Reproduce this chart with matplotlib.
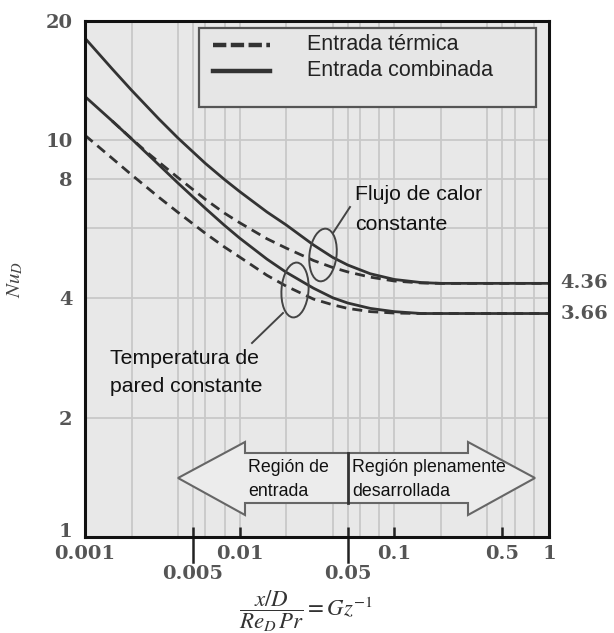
import matplotlib
matplotlib.use("Agg")
import matplotlib.pyplot as plt
from matplotlib.patches import Ellipse, Polygon, Rectangle
from matplotlib.lines import Line2D
from matplotlib.ticker import FixedLocator, NullFormatter
from matplotlib.transforms import ScaledTranslation

# ---------------- data ----------------
x_comb_H = [0.001, 0.0015, 0.002, 0.003, 0.004, 0.006, 0.008, 0.01, 0.015, 0.02, 0.03,
            0.04, 0.05, 0.07, 0.1, 0.15, 0.2, 1.0]
nu_comb_H = [18.1, 15.14, 13.38, 11.33, 10.13, 8.75, 7.96, 7.43, 6.6, 6.12, 5.45,
             5.07, 4.85, 4.61, 4.46, 4.38, 4.36, 4.36]

x_comb_T = [0.001, 0.0015, 0.002, 0.003, 0.004, 0.006, 0.008, 0.01, 0.015, 0.02, 0.03,
            0.04, 0.05, 0.07, 0.1, 0.15, 1.0]
nu_comb_T = [12.9, 11.19, 10.09, 8.68, 7.8, 6.74, 6.1, 5.67, 5.02, 4.65, 4.24,
             4.01, 3.89, 3.77, 3.70, 3.66, 3.66]

x_therm_H = [0.0015, 0.002, 0.0025, 0.003, 0.004, 0.006, 0.008, 0.01, 0.015, 0.02, 0.03,
             0.04, 0.05, 0.07, 0.1, 0.15, 0.2, 1.0]
nu_therm_H = [11.19, 10.1, 9.35, 8.82, 8.05, 7.1, 6.55, 6.2, 5.65, 5.35, 4.98,
              4.78, 4.66, 4.52, 4.42, 4.37, 4.36, 4.36]

x_therm_T = [0.001, 0.0015, 0.002, 0.003, 0.004, 0.006, 0.008, 0.01, 0.015, 0.02, 0.03,
             0.04, 0.05, 0.07, 0.1, 0.15, 1.0]
nu_therm_T = [10.3, 9.01, 8.19, 7.19, 6.58, 5.83, 5.38, 5.08, 4.57, 4.29, 3.98,
              3.85, 3.77, 3.70, 3.67, 3.66, 3.66]

x_ticks = [0.001, 0.005, 0.01, 0.05, 0.1, 0.5, 1.0]
x_tick_labels = ["0.001", "0.005", "0.01", "0.05", "0.1", "0.5", "1"]
x_grid = [0.002, 0.004, 0.006, 0.008, 0.02, 0.04, 0.06, 0.08, 0.2, 0.4, 0.6, 0.8]
y_ticks = [1, 2, 4, 8, 10, 20]
y_tick_labels = ["1", "2", "4", "8", "10", "20"]
y_grid = [6]
nu_fd = [4.36, 3.66]
nu_fd_labels = ["4.36", "3.66"]

legend_labels = ["Entrada térmica", "Entrada combinada"]

# ---------------- figure ----------------
plt.rcParams["mathtext.fontset"] = "stix"
W, H = 614, 633
fig = plt.figure(figsize=(W / 100, H / 100), dpi=100)
L, R, T, B = 85, 549, 21, 537
ax = fig.add_axes([L / W, 1 - B / H, (R - L) / W, (B - T) / H])
ax.set_facecolor("#e8e8e8")
ax.set_xscale("log")
ax.set_yscale("log")
ax.set_xlim(0.001, 1.0)
ax.set_ylim(1, 20)

def px2ax(px, py):
    return ((px - L) / (R - L), (B - py) / (B - T))

tick_font = dict(family="DejaVu Serif", fontweight="bold", fontsize=14, color="#555555")
sans = ["Liberation Sans", "DejaVu Sans"]

# grid
ax.xaxis.set_major_locator(FixedLocator(x_ticks))
ax.xaxis.set_minor_locator(FixedLocator(x_grid))
ax.xaxis.set_minor_formatter(NullFormatter())
ax.set_xticklabels(x_tick_labels, **tick_font)
ax.yaxis.set_major_locator(FixedLocator(y_ticks))
ax.yaxis.set_minor_locator(FixedLocator(y_grid))
ax.yaxis.set_minor_formatter(NullFormatter())
ax.set_yticklabels(y_tick_labels, **tick_font)
ax.grid(True, which="both", color="#c8c8c8", lw=1.3)
ax.set_axisbelow(True)

ax.tick_params(axis="x", which="major", direction="in", length=7.5, width=1.8, color="#222222", pad=6)
ax.tick_params(axis="x", which="minor", length=0)
ax.tick_params(axis="y", which="both", length=0, pad=9)
for t, v in zip(ax.xaxis.get_major_ticks(), x_ticks):
    if v in (0.005, 0.05):
        t.set_pad(20)
# lift the "1" label on y so it does not touch "0.001"
ylab1 = ax.yaxis.get_major_ticks()[0].label1
ylab1.set_transform(ylab1.get_transform() + ScaledTranslation(0, 5 / 72, fig.dpi_scale_trans))
# long tick marks below the axis for 0.005 and 0.05
for v in (0.005, 0.05):
    ax.plot([v, v], [0, -25 / (B - T)], transform=ax.get_xaxis_transform(),
            color="#222222", lw=1.8, clip_on=False)

for s in ax.spines.values():
    s.set_linewidth(2.2)
    s.set_color("#111111")

# curves
lc = "#333333"
ax.plot(x_comb_H, nu_comb_H, color=lc, lw=2.0, solid_capstyle="butt", solid_joinstyle="round")
ax.plot(x_comb_T, nu_comb_T, color=lc, lw=2.0, solid_capstyle="butt", solid_joinstyle="round")
ax.plot(x_therm_H, nu_therm_H, color=lc, lw=2.0, ls=(0, (3.6, 2.2)))
ax.plot(x_therm_T, nu_therm_T, color=lc, lw=2.0, ls=(0, (3.6, 2.2)))

# fully developed values at right
for v, lab in zip(nu_fd, nu_fd_labels):
    ax.text(1.024, v, lab, transform=ax.get_yaxis_transform(), ha="left", va="center", **tick_font)

# legend (manual box)
x0, y0 = px2ax(199, 107)
x1, y1 = px2ax(536, 28)
ax.add_patch(Rectangle((x0, y0), x1 - x0, y1 - y0, transform=ax.transAxes,
                       facecolor="#e6e6e6", edgecolor="#555555", lw=1.6, zorder=5))
for py, ls, lab in [(45, (0, (3.0, 1.0)), legend_labels[0]), (71, "-", legend_labels[1])]:
    a0 = px2ax(213, py)
    a1 = px2ax(270, py)
    ax.add_line(Line2D([a0[0], a1[0]], [a0[1], a1[1]], transform=ax.transAxes,
                       color="#333333", lw=3.2, ls=ls, zorder=6))
    tx = px2ax(307, py)
    ax.text(tx[0], tx[1], lab, transform=ax.transAxes, ha="left", va="center",
            family=sans, fontsize=15.5, color="#222222", zorder=7)

# ellipses and leader lines
for (cx, cy, w, h, ang) in [(323, 255, 27, 53, -8), (295, 290, 27, 55, -5)]:
    c = px2ax(cx, cy)
    ax.add_patch(Ellipse(c, w / (R - L), h / (B - T), angle=ang, transform=ax.transAxes,
                         fill=False, edgecolor="#444444", lw=1.4, zorder=4))
for (p0, p1) in [((333, 233), (350, 207)), ((283, 313), (252, 343))]:
    a0 = px2ax(*p0)
    a1 = px2ax(*p1)
    ax.add_line(Line2D([a0[0], a1[0]], [a0[1], a1[1]], transform=ax.transAxes,
                       color="#444444", lw=1.4, zorder=4))

def label(px, py, s, size=15.3):
    a = px2ax(px, py)
    ax.text(a[0], a[1], s, transform=ax.transAxes, ha="left", va="center",
            family=sans, fontsize=size, color="#111111", zorder=7)

label(355, 195, "Flujo de calor")
label(355, 225, "constante")
label(110, 358, "Temperatura de")
label(110, 387, "pared constante")

# region arrow
pts_px = [(178, 478), (245, 442), (245, 453), (468, 453), (468, 442), (535, 478),
          (468, 515), (468, 503), (245, 503), (245, 515)]
ax.add_patch(Polygon([px2ax(*p) for p in pts_px], closed=True, transform=ax.transAxes,
                     facecolor="#ececec", edgecolor="#666666", lw=1.5, zorder=3))
d0 = px2ax(348, 453)
d1 = px2ax(348, 503)
ax.add_line(Line2D([d0[0], d1[0]], [d0[1], d1[1]], transform=ax.transAxes,
                   color="#333333", lw=2.0, zorder=4))
label(248, 467, "Región de", 12.8)
label(248, 492, "entrada", 12.8)
label(352, 467, "Región plenamente", 12.8)
label(352, 492, "desarrollada", 12.8)

# axis labels
ax.set_ylabel(r"$Nu_D$", fontsize=15, color="#444444", labelpad=0)
ax.yaxis.set_label_coords((25 - L) / (R - L), 0.5)
fig.text(306 / W, 1 - 611 / H, r"$\dfrac{x/D}{Re_D\,Pr} = Gz^{-1}$", ha="center", va="center",
         fontsize=16.5, color="#333333")

fig.savefig("out.png", dpi=100, facecolor="white")
